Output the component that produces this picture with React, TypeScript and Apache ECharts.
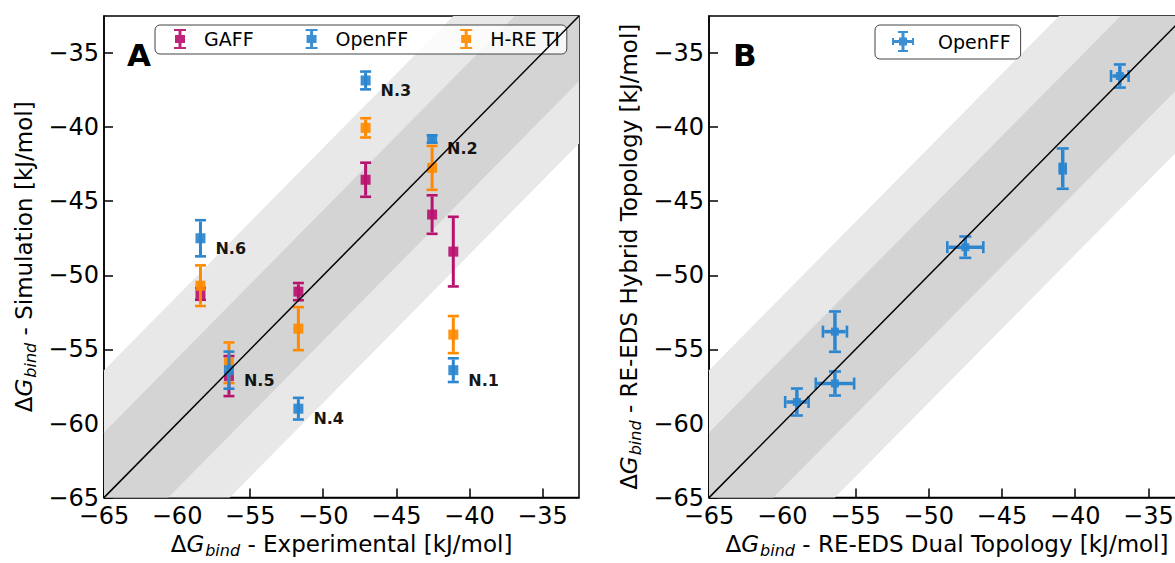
import React, { useEffect, useRef } from "react";
import * as echarts from "echarts";

// ---------- data ----------
const ligands = ["N.1", "N.2", "N.3", "N.4", "N.5", "N.6"];
const experimental = [-41.1, -42.55, -47.1, -51.7, -56.45, -58.4];
const gaffSim = [-48.4, -45.9, -43.55, -51.1, -56.8, -51.25];
const gaffErr = [2.35, 1.3, 1.15, 0.58, 1.35, 0.4];
const openffSim = [-56.4, -40.8, -36.85, -59.0, -56.4, -47.5];
const openffErr = [0.8, 0.25, 0.6, 0.73, 1.25, 1.22];
const hreSim = [-54.0, -42.75, -40.05, -53.6, -55.9, -50.7];
const hreErr = [1.25, 1.48, 0.65, 1.45, 1.37, 1.37];

const dualTopology = [-36.95, -40.85, -47.5, -56.4, -56.4, -59.0];
const dualErr = [0.6, 0.2, 1.23, 0.82, 1.31, 0.8];
const hybridTopology = [-36.55, -42.8, -48.1, -53.8, -57.3, -58.55];
const hybridErr = [0.78, 1.36, 0.72, 1.36, 0.81, 0.91];

const tickValues = [-65, -60, -55, -50, -45, -40, -35];
const axisMin = -65;
const axisMax = -32.5;
const bandHalfWidths = [8.6, 4.4]; // light band, dark band
const bandColors = ["#e8e8e8", "#d4d4d4"];

const FONT = '"DejaVu Sans", "Noto Sans", sans-serif';
const C_GAFF = "#b8126f";
const C_OPENFF = "#2c85cf";
const C_HRE = "#ff8a00";

const ebIcon =
  "path://M0,0H12V2H7.5V6H11V14H7.5V18H12V20H0V18H4.5V14H1V6H4.5V2H0Z";
const crossIcon =
  "path://M6,0H16V2H12.5V19H16V21H6V19H9.5V2H6Z M0,7H2V9H20V7H22V14H20V12H2V14H0Z M7,6.5H15V14.5H7Z";

const fmtTick = (v: number) => {
  if (!tickValues.includes(v)) return "";
  return v < 0 ? "\u2212" + Math.abs(v) : String(v);
};

function makeErrRender(color: string, lw: number, cap: number, capT: number) {
  return (params: any, api: any) => {
    const x = api.value(0);
    const y = api.value(1);
    const xe = api.value(2);
    const ye = api.value(3);
    const c = api.coord([x, y]);
    const children: any[] = [];
    const style = { fill: color };
    if (ye > 0) {
      const top = api.coord([x, y + ye])[1];
      const bot = api.coord([x, y - ye])[1];
      children.push({
        type: "rect",
        shape: { x: c[0] - lw / 2, y: top + capT / 2, width: lw, height: bot - top - capT },
        style,
      });
      children.push({
        type: "rect",
        shape: { x: c[0] - cap / 2, y: top - capT / 2, width: cap, height: capT },
        style,
      });
      children.push({
        type: "rect",
        shape: { x: c[0] - cap / 2, y: bot - capT / 2, width: cap, height: capT },
        style,
      });
    }
    if (xe > 0) {
      const left = api.coord([x - xe, y])[0];
      const right = api.coord([x + xe, y])[0];
      children.push({
        type: "rect",
        shape: { x: left + capT / 2, y: c[1] - lw / 2, width: right - left - capT, height: lw },
        style,
      });
      children.push({
        type: "rect",
        shape: { x: left - capT / 2, y: c[1] - cap / 2, width: capT, height: cap },
        style,
      });
      children.push({
        type: "rect",
        shape: { x: right - capT / 2, y: c[1] - cap / 2, width: capT, height: cap },
        style,
      });
    }
    return { type: "group", children };
  };
}

const bandRender = (params: any, api: any) => {
  const d = api.value(2);
  const lo = axisMin;
  const hi = axisMax;
  const pts = [
    [lo, lo],
    [lo, lo + d],
    [hi - d, hi],
    [hi, hi],
    [hi, hi - d],
    [lo + d, lo],
  ].map((p) => api.coord(p));
  return {
    type: "polygon",
    shape: { points: pts },
    style: { fill: bandColors[params.dataIndex] },
  };
};

function bandsSeries(idx: number) {
  return {
    type: "custom",
    xAxisIndex: idx,
    yAxisIndex: idx,
    silent: true,
    z: 1,
    renderItem: bandRender,
    encode: { x: 0, y: 1 },
    data: bandHalfWidths.map((d) => [axisMin, axisMin, d]),
  };
}

function diagSeries(idx: number) {
  return {
    type: "line",
    xAxisIndex: idx,
    yAxisIndex: idx,
    silent: true,
    symbol: "none",
    z: 10,
    lineStyle: { color: "#000", width: 1.5 },
    data: [
      [axisMin, axisMin],
      [axisMax, axisMax],
    ],
  };
}

function errSeries(name: string, color: string, xs: number[], ys: number[], xe: number[] | null, ye: number[], z: number, idx: number, lw: number, cap: number) {
  return {
    type: "custom",
    name: name + " err",
    xAxisIndex: idx,
    yAxisIndex: idx,
    silent: true,
    z,
    renderItem: makeErrRender(color, lw, cap, 2.6),
    itemStyle: { opacity: 0.75 },
    encode: { x: 0, y: 1 },
    data: xs.map((x, i) => [x, ys[i], xe ? xe[i] : 0, ye[i]]),
  };
}

function markerSeries(name: string, color: string, xs: number[], ys: number[], z: number, idx: number, size: number, withLabels: boolean) {
  return {
    type: "scatter",
    name,
    xAxisIndex: idx,
    yAxisIndex: idx,
    symbol: "rect",
    symbolSize: size,
    z,
    itemStyle: { color, opacity: 0.92 },
    label: withLabels
      ? {
          show: true,
          position: "right",
          distance: 10,
          offset: [0, 10],
          formatter: (p: any) => ligands[p.dataIndex],
          fontFamily: FONT,
          fontWeight: "bold",
          fontSize: 16,
          color: "#000",
        }
      : { show: false },
    data: xs.map((x, i) => [x, ys[i]]),
  };
}

const mkName = (rest: string) => `{d|\u0394}{g|G}{s|bind}{t| - ${rest}}`;
const nameRich = {
  d: { fontSize: 23, fontFamily: FONT, color: "#000" },
  g: { fontSize: 23, fontFamily: FONT, fontStyle: "italic", color: "#000" },
  s: { fontSize: 16, fontFamily: FONT, fontStyle: "italic", color: "#000", padding: [12, 0, 0, 1] },
  t: { fontSize: 23, fontFamily: FONT, color: "#000" },
};

function axis(gridIndex: number, name: string, isY: boolean) {
  return {
    type: "value",
    gridIndex,
    min: axisMin,
    max: axisMax,
    interval: 5,
    name,
    nameLocation: "middle",
    nameGap: isY ? 66 : 30,
    nameTextStyle: { rich: nameRich, color: "#000" },
    axisLine: { show: true, onZero: false, lineStyle: { color: "#000", width: 1.5 } },
    axisTick: { show: true, inside: true, length: 9, lineStyle: { color: "#000", width: 1.5 } },
    axisLabel: {
      show: true,
      margin: isY ? 5 : 6,
      fontSize: 24,
      fontFamily: FONT,
      color: "#000",
      showMaxLabel: false,
      formatter: fmtTick,
    },
    splitLine: { show: false },
  };
}

export default function App() {
  const ref = useRef<HTMLDivElement>(null);
  useEffect(() => {
    if (!ref.current) return;
    const chart = echarts.init(ref.current, undefined, { renderer: "svg" });
    const option: any = {
      animation: false,
      backgroundColor: "#fff",
      grid: [
        { left: 104, top: 16, width: 475, height: 487, show: true, borderColor: "#000", borderWidth: 1.5, backgroundColor: "transparent" },
        { left: 709, top: 16, width: 476, height: 487, show: true, borderColor: "#000", borderWidth: 1.5, backgroundColor: "transparent" },
      ],
      xAxis: [
        axis(0, mkName("Experimental [kJ/mol]"), false),
        axis(1, mkName("RE-EDS Dual Topology [kJ/mol]"), false),
      ],
      yAxis: [
        axis(0, mkName("Simulation [kJ/mol]"), true),
        axis(1, mkName("RE-EDS Hybrid Topology [kJ/mol]"), true),
      ],
      legend: [
        {
          left: 155,
          top: 25,
          orient: "horizontal",
          itemWidth: 12,
          itemHeight: 20,
          itemGap: 52,
          padding: [4, 7, 5, 19],
          borderColor: "#444",
          borderWidth: 1,
          borderRadius: 5,
          backgroundColor: "rgba(255,255,255,0.8)",
          selectedMode: false,
          textStyle: { fontSize: 19, fontFamily: FONT, color: "#000", padding: [0, 0, 0, 13] },
          data: [
            { name: "GAFF", icon: ebIcon },
            { name: "OpenFF", icon: ebIcon },
            { name: "H-RE TI", icon: ebIcon },
          ],
        },
        {
          left: 875,
          top: 25,
          orient: "horizontal",
          itemWidth: 22,
          itemHeight: 21,
          padding: [6, 10, 7, 17],
          borderColor: "#444",
          borderWidth: 1,
          borderRadius: 5,
          backgroundColor: "rgba(255,255,255,0.8)",
          selectedMode: false,
          textStyle: { fontSize: 19, fontFamily: FONT, color: "#000", padding: [0, 0, 0, 19] },
          data: [{ name: "OpenFF", icon: crossIcon }],
        },
      ],
      graphic: [
        { type: "text", left: 127, top: 39, style: { text: "A", font: `bold 31px ${FONT}`, fill: "#000" } },
        { type: "text", left: 733, top: 39, style: { text: "B", font: `bold 31px ${FONT}`, fill: "#000" } },
      ],
      series: [
        bandsSeries(0),
        diagSeries(0),
        errSeries("GAFF", C_GAFF, experimental, gaffSim, null, gaffErr, 3, 0, 3, 11),
        markerSeries("GAFF", C_GAFF, experimental, gaffSim, 4, 0, 10, false),
        errSeries("H-RE TI", C_HRE, experimental, hreSim, null, hreErr, 5, 0, 3, 11),
        markerSeries("H-RE TI", C_HRE, experimental, hreSim, 6, 0, 10, false),
        errSeries("OpenFF", C_OPENFF, experimental, openffSim, null, openffErr, 7, 0, 3, 11),
        markerSeries("OpenFF", C_OPENFF, experimental, openffSim, 8, 0, 10, true),
        bandsSeries(1),
        diagSeries(1),
        errSeries("OpenFF B", C_OPENFF, dualTopology, hybridTopology, dualErr, hybridErr, 7, 1, 3.5, 12),
        markerSeries("OpenFF", C_OPENFF, dualTopology, hybridTopology, 8, 1, 8, false),
      ],
    };
    chart.setOption(option);
    return () => chart.dispose();
  }, []);
  return (
    <div
      ref={ref}
      style={{ position: "fixed", left: 0, top: 0, width: 1190, height: 563, background: "#fff" }}
    />
  );
}
